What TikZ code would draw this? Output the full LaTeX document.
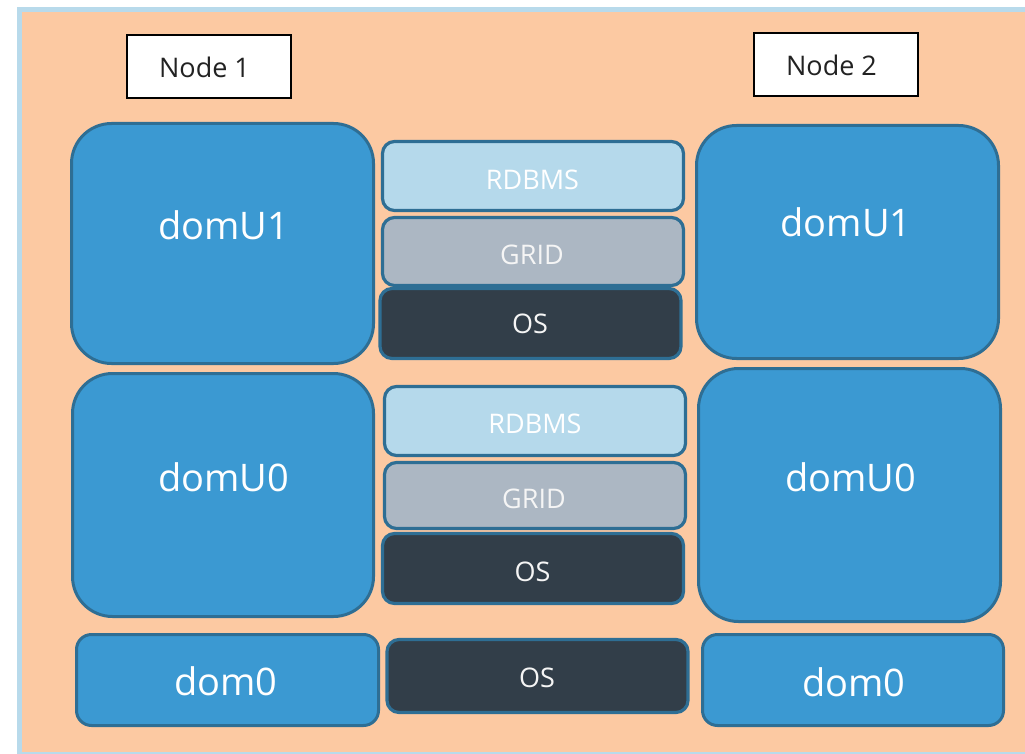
\documentclass[tikz,border=0pt]{standalone}
\usepackage{fontspec}
\setmainfont{Open Sans}

\definecolor{framebl}{RGB}{184,218,235}
\definecolor{peach}{RGB}{252,201,162}
\definecolor{domblue}{RGB}{59,153,210}
\definecolor{edgeblue}{RGB}{46,110,148}
\definecolor{rdbmsfill}{RGB}{181,217,235}
\definecolor{gridfill}{RGB}{172,183,195}
\definecolor{osfill}{RGB}{50,62,73}
\definecolor{labelgray}{RGB}{34,34,34}

\begin{document}
\begin{tikzpicture}[x=1pt,y=-1pt,
  dombox/.style={draw=edgeblue, line width=3pt, fill=domblue, inner sep=0pt, rounded corners=#1},
  layerbox/.style={draw=edgeblue, line width=3.2pt, inner sep=0pt, rounded corners=12pt,
                   minimum width=301pt, minimum height=#1},
  hostbox/.style={draw=black, line width=2pt, fill=white, inner sep=0pt,
                  minimum width=164pt, minimum height=63pt},
  bigtxt/.style={inner sep=0pt, text=white, font=\fontsize{38}{40}\selectfont},
  layertxt/.style={inner sep=0pt, text=#1, font=\fontsize{27}{29}\selectfont},
  hosttxt/.style={inner sep=0pt, text=labelgray, font=\fontsize{27}{29}\selectfont}
]
% page, frame and background
\fill[white] (0,0) rectangle (1025,754);
\fill[framebl] (17,7) rectangle (1025,754);
\fill[peach] (22,12) rectangle (1025,751.5);

% host labels
\node[hostbox] (n1box) at (209,66.5) {};
\node[hosttxt] (n1txt) at (204.5,67.5) {Node 1};
\node[hostbox] (n2box) at (836,64.5) {};
\node[hosttxt] (n2txt) at (831.5,65) {Node 2};

% node 1 domains
\node[dombox=40pt, minimum width=302pt, minimum height=240pt] (l1) at (222.5,243.5) {};
\node[bigtxt] (l1t) at (223.5,225) {domU1};
\node[dombox=40pt, minimum width=301pt, minimum height=243pt] (l0) at (223,495) {};
\node[bigtxt] (l0t) at (223.8,477.5) {domU0};
\node[dombox=15pt, minimum width=302pt, minimum height=91pt] (l00) at (227.5,680) {};
\node[bigtxt] (l00t) at (226,681) {dom0};

% node 2 domains
\node[dombox=40pt, minimum width=302pt, minimum height=233pt] (r1) at (847.5,242) {};
\node[bigtxt] (r1t) at (846,222.5) {domU1};
\node[dombox=40pt, minimum width=302pt, minimum height=253pt] (r0) at (849.5,495) {};
\node[bigtxt] (r0t) at (850.5,477.5) {domU0};
\node[dombox=15pt, minimum width=301pt, minimum height=91pt] (r00) at (853,680) {};
\node[bigtxt] (r00t) at (854,682.5) {dom0};

% software stack of domU1
\node[layerbox=69pt, fill=rdbmsfill] (s1db) at (533,176) {};
\node[layertxt=white] (s1dbt) at (532.5,179.5) {RDBMS};
\node[layerbox=68pt, fill=gridfill] (s1gr) at (533,251.5) {};
\node[layertxt=white!92!gray] (s1grt) at (532,254.5) {GRID};
\node[layerbox=70pt, fill=osfill] (s1os) at (530.5,323.5) {};
\node[layertxt=white!92!gray] (s1ost) at (530,324) {OS};

% software stack of domU0
\node[layerbox=69pt, fill=rdbmsfill] (s2db) at (535,421) {};
\node[layertxt=white] (s2dbt) at (535,423.5) {RDBMS};
\node[layerbox=66pt, fill=gridfill] (s2gr) at (535,495.5) {};
\node[layertxt=white!92!gray] (s2grt) at (534,499) {GRID};
\node[layerbox=70pt, fill=osfill] (s2os) at (533,568.5) {};
\node[layertxt=white!92!gray] (s2ost) at (532.5,572) {OS};

% operating system of dom0
\node[layerbox=73pt, fill=osfill] (s0os) at (537.5,676) {};
\node[layertxt=white!92!gray] (s0ost) at (537,678) {OS};
\end{tikzpicture}
\end{document}
